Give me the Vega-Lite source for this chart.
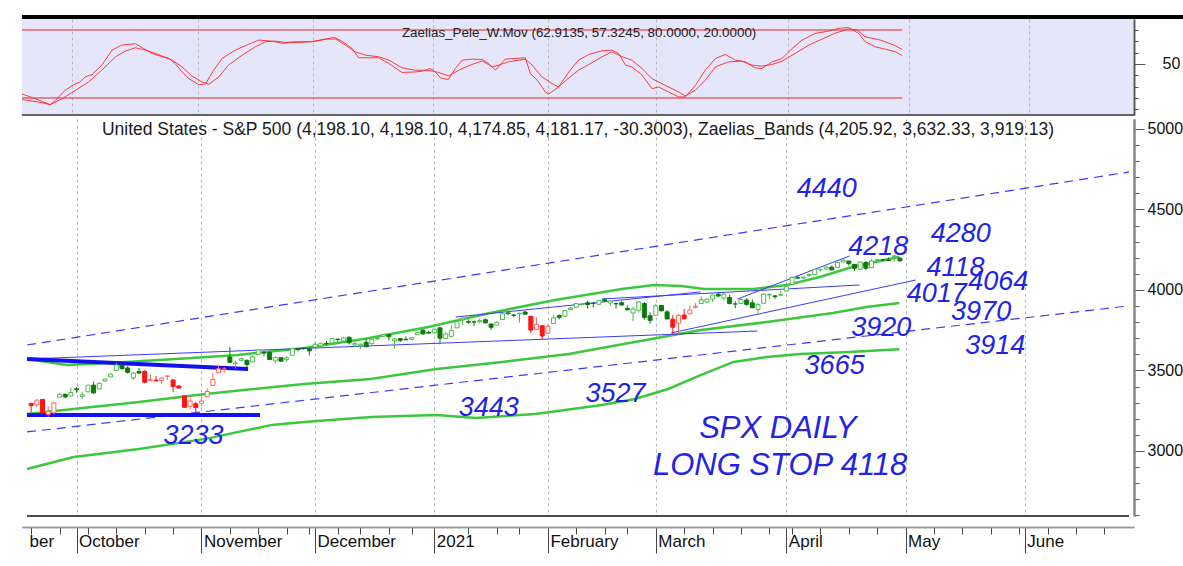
{
"$schema": "https://vega.github.io/schema/vega-lite/v6.json",
"padding": {"left": 18, "top": 14, "right": 0, "bottom": 0},
"background": "white",
"spacing": 3,
"config": {"view": {"stroke": null}, "font": "Liberation Sans", "axis": {"labelOverlap": false}},
"datasets": {
"osc": [
{"s":"f","i":-8.7,"v":23.5},{"s":"f","i":-6.4,"v":19.4},{"s":"f","i":-3.8,"v":14.1},{"s":"f","i":-2.9,"v":17.9},{"s":"f","i":-1.2,"v":26.8},{"s":"f","i":0.3,"v":31.8},{"s":"f","i":1.45,"v":34.2},{"s":"f","i":2.3,"v":38.6},{"s":"f","i":3.5,"v":40.7},{"s":"f","i":5.2,"v":49.0},{"s":"f","i":7.0,"v":62.3},{"s":"f","i":8.7,"v":66.7},{"s":"f","i":11.05,"v":67.9},{"s":"f","i":12.5,"v":63.7},{"s":"f","i":14.0,"v":59.3},{"s":"f","i":15.7,"v":56.4},{"s":"f","i":16.9,"v":54.9},{"s":"f","i":18.0,"v":50.4},{"s":"f","i":19.2,"v":43.0},{"s":"f","i":20.4,"v":37.1},{"s":"f","i":22.1,"v":31.8},{"s":"f","i":23.3,"v":32.4},{"s":"f","i":24.7,"v":44.5},{"s":"f","i":26.2,"v":54.9},{"s":"f","i":28.5,"v":62.3},{"s":"f","i":30.8,"v":67.3},{"s":"f","i":32.6,"v":71.1},{"s":"f","i":34.9,"v":70.2},{"s":"f","i":36.6,"v":68.2},{"s":"f","i":37.8,"v":68.8},{"s":"f","i":40.1,"v":69.1},{"s":"f","i":41.9,"v":69.7},{"s":"f","i":43.6,"v":71.1},{"s":"f","i":45.7,"v":73.5},{"s":"f","i":47.1,"v":70.2},{"s":"f","i":48.9,"v":63.7},{"s":"f","i":50.0,"v":55.5},{"s":"f","i":51.8,"v":55.5},{"s":"f","i":53.5,"v":55.5},{"s":"f","i":55.3,"v":50.4},{"s":"f","i":57.6,"v":42.5},{"s":"f","i":59.9,"v":43.0},{"s":"f","i":61.1,"v":43.6},{"s":"f","i":62.5,"v":46.0},{"s":"f","i":63.4,"v":43.0},{"s":"f","i":64.3,"v":37.7},{"s":"f","i":65.7,"v":36.3},{"s":"f","i":66.9,"v":46.0},{"s":"f","i":68.1,"v":53.4},{"s":"f","i":69.8,"v":54.3},{"s":"f","i":71.6,"v":54.0},{"s":"f","i":72.7,"v":50.4},{"s":"f","i":73.9,"v":44.5},{"s":"f","i":75.6,"v":54.3},{"s":"f","i":77.4,"v":54.9},{"s":"f","i":79.1,"v":55.5},{"s":"f","i":80.0,"v":41.6},{"s":"f","i":81.2,"v":35.7},{"s":"f","i":82.6,"v":25.3},{"s":"f","i":83.2,"v":23.5},{"s":"f","i":84.9,"v":29.7},{"s":"f","i":86.7,"v":43.0},{"s":"f","i":88.4,"v":53.4},{"s":"f","i":90.2,"v":58.4},{"s":"f","i":92.5,"v":61.7},{"s":"f","i":94.2,"v":62.3},{"s":"f","i":95.4,"v":59.3},{"s":"f","i":96.6,"v":49.0},{"s":"f","i":97.7,"v":47.5},{"s":"f","i":99.5,"v":40.1},{"s":"f","i":101.2,"v":28.3},{"s":"f","i":102.4,"v":29.7},{"s":"f","i":104.1,"v":25.3},{"s":"f","i":105.9,"v":20.9},{"s":"f","i":107.0,"v":20.9},{"s":"f","i":108.8,"v":31.2},{"s":"f","i":110.5,"v":44.5},{"s":"f","i":112.3,"v":54.9},{"s":"f","i":114.0,"v":58.4},{"s":"f","i":115.8,"v":53.4},{"s":"f","i":117.5,"v":51.9},{"s":"f","i":119.2,"v":46.6},{"s":"f","i":120.4,"v":46.0},{"s":"f","i":122.2,"v":51.9},{"s":"f","i":123.9,"v":54.9},{"s":"f","i":125.7,"v":63.7},{"s":"f","i":127.4,"v":71.1},{"s":"f","i":129.7,"v":77.0},{"s":"f","i":132.1,"v":79.1},{"s":"f","i":133.8,"v":81.5},{"s":"f","i":135.5,"v":82.1},{"s":"f","i":137.3,"v":77.0},{"s":"f","i":138.4,"v":69.7},{"s":"f","i":140.2,"v":65.2},{"s":"f","i":142.5,"v":62.3},{"s":"f","i":143.7,"v":60.8},{"s":"f","i":144.9,"v":57.3},
{"s":"s","i":-8.7,"v":18.6},{"s":"s","i":-5.8,"v":16.4},{"s":"s","i":-3.8,"v":14.1},{"s":"s","i":-1.7,"v":19.4},{"s":"s","i":0.6,"v":26.8},{"s":"s","i":2.9,"v":34.2},{"s":"s","i":5.2,"v":44.5},{"s":"s","i":7.6,"v":56.4},{"s":"s","i":9.3,"v":61.4},{"s":"s","i":11.05,"v":64.3},{"s":"s","i":12.8,"v":62.3},{"s":"s","i":15.1,"v":58.4},{"s":"s","i":17.5,"v":53.4},{"s":"s","i":19.2,"v":47.5},{"s":"s","i":20.9,"v":39.5},{"s":"s","i":22.7,"v":34.2},{"s":"s","i":23.9,"v":32.1},{"s":"s","i":25.6,"v":38.6},{"s":"s","i":27.3,"v":49.0},{"s":"s","i":29.7,"v":57.8},{"s":"s","i":32.0,"v":65.2},{"s":"s","i":33.8,"v":69.7},{"s":"s","i":35.5,"v":70.2},{"s":"s","i":37.2,"v":69.1},{"s":"s","i":39.6,"v":69.7},{"s":"s","i":41.9,"v":69.7},{"s":"s","i":44.2,"v":72.0},{"s":"s","i":46.0,"v":72.0},{"s":"s","i":47.7,"v":66.7},{"s":"s","i":49.4,"v":60.8},{"s":"s","i":51.2,"v":57.8},{"s":"s","i":53.5,"v":56.4},{"s":"s","i":55.3,"v":53.4},{"s":"s","i":57.6,"v":46.6},{"s":"s","i":59.9,"v":44.5},{"s":"s","i":62.2,"v":44.5},{"s":"s","i":64.0,"v":42.5},{"s":"s","i":65.7,"v":39.5},{"s":"s","i":67.5,"v":44.5},{"s":"s","i":69.8,"v":49.6},{"s":"s","i":71.6,"v":52.8},{"s":"s","i":73.3,"v":47.5},{"s":"s","i":74.5,"v":49.0},{"s":"s","i":76.2,"v":51.9},{"s":"s","i":79.1,"v":54.3},{"s":"s","i":80.3,"v":49.0},{"s":"s","i":82.0,"v":38.6},{"s":"s","i":83.8,"v":32.7},{"s":"s","i":84.9,"v":29.7},{"s":"s","i":86.7,"v":37.7},{"s":"s","i":88.4,"v":44.5},{"s":"s","i":90.2,"v":49.6},{"s":"s","i":92.5,"v":56.4},{"s":"s","i":94.2,"v":60.8},{"s":"s","i":96.0,"v":56.4},{"s":"s","i":97.7,"v":53.4},{"s":"s","i":99.5,"v":46.0},{"s":"s","i":101.2,"v":37.1},{"s":"s","i":103.5,"v":31.2},{"s":"s","i":105.9,"v":25.3},{"s":"s","i":107.0,"v":21.8},{"s":"s","i":108.8,"v":26.8},{"s":"s","i":110.5,"v":35.7},{"s":"s","i":112.3,"v":47.5},{"s":"s","i":114.6,"v":51.9},{"s":"s","i":116.9,"v":52.5},{"s":"s","i":118.7,"v":49.0},{"s":"s","i":120.4,"v":48.1},{"s":"s","i":122.2,"v":49.6},{"s":"s","i":123.9,"v":52.5},{"s":"s","i":126.2,"v":59.3},{"s":"s","i":128.6,"v":66.7},{"s":"s","i":130.9,"v":72.0},{"s":"s","i":133.1,"v":77.0},{"s":"s","i":135.5,"v":80.9},{"s":"s","i":137.0,"v":80.0},{"s":"s","i":138.4,"v":74.1},{"s":"s","i":141.1,"v":71.1},{"s":"s","i":143.4,"v":66.7},{"s":"s","i":144.9,"v":62.9}
],
"lev": [{"v":80},{"v":20}],
"toptitle": [{"label":"Zaelias_Pele_W.Mov (62.9135, 57.3245, 80.0000, 20.0000)","i":88.5,"v":77.4}],
"maintitle": [{"label":"United States - S&P 500 (4,198.10, 4,198.10, 4,174.85, 4,181.17, -30.3003), Zaelias_Bands (4,205.92, 3,632.33, 3,919.13)","i":88.3,"v":4994}],
"bands": [
{"s":"up","i":-8.73,"v":3571},{"s":"up","i":-1.75,"v":3534},{"s":"up","i":8.73,"v":3553},{"s":"up","i":17.45,"v":3571},{"s":"up","i":28.45,"v":3596},{"s":"up","i":40.14,"v":3640},{"s":"up","i":50.6,"v":3696},{"s":"up","i":61.95,"v":3770},{"s":"up","i":72.8,"v":3857},{"s":"up","i":84.3,"v":3938},{"s":"up","i":96.0,"v":4006},{"s":"up","i":101.7,"v":4031},{"s":"up","i":106.5,"v":4025},{"s":"up","i":110.5,"v":4006},{"s":"up","i":119.2,"v":4006},{"s":"up","i":125.1,"v":4031},{"s":"up","i":130.9,"v":4081},{"s":"up","i":136.6,"v":4143},{"s":"up","i":144.9,"v":4206},
{"s":"mid","i":-8.73,"v":3230},{"s":"mid","i":-0.52,"v":3261},{"s":"mid","i":11.0,"v":3304},{"s":"mid","i":22.7,"v":3354},{"s":"mid","i":40.1,"v":3416},{"s":"mid","i":51.8,"v":3447},{"s":"mid","i":63.4,"v":3509},{"s":"mid","i":75.0,"v":3553},{"s":"mid","i":86.7,"v":3602},{"s":"mid","i":98.3,"v":3677},{"s":"mid","i":110.0,"v":3752},{"s":"mid","i":121.6,"v":3801},{"s":"mid","i":133.2,"v":3857},{"s":"mid","i":139.1,"v":3894},{"s":"mid","i":144.9,"v":3919},
{"s":"low","i":-8.73,"v":2888},{"s":"low","i":-0.52,"v":2963},{"s":"low","i":11.0,"v":3012},{"s":"low","i":22.7,"v":3075},{"s":"low","i":34.4,"v":3162},{"s":"low","i":40.1,"v":3180},{"s":"low","i":51.8,"v":3211},{"s":"low","i":63.4,"v":3224},{"s":"low","i":70.3,"v":3205},{"s":"low","i":80.8,"v":3230},{"s":"low","i":92.5,"v":3286},{"s":"low","i":98.3,"v":3323},{"s":"low","i":104.2,"v":3385},{"s":"low","i":110.0,"v":3472},{"s":"low","i":115.7,"v":3553},{"s":"low","i":121.6,"v":3584},{"s":"low","i":127.4,"v":3602},{"s":"low","i":136.1,"v":3615},{"s":"low","i":144.9,"v":3632}
],
"dashed": [
{"id":"d1","i":-8.73,"v":3658},{"id":"d1","i":185.34,"v":4733},
{"id":"d2","i":-8.73,"v":3118},{"id":"d2","i":185.34,"v":3901}
],
"thin": [
{"id":"L5","i":-8.73,"v":3571},{"id":"L5","i":119.9,"v":3745},
{"id":"L1","i":66.8,"v":3832},{"id":"L1","i":109.9,"v":3988},
{"id":"L2","i":92.5,"v":3944},{"id":"L2","i":137.9,"v":4031},
{"id":"L3","i":116.4,"v":3944},{"id":"L3","i":136.1,"v":4211},
{"id":"L4","i":104.7,"v":3733},{"id":"L4","i":147.8,"v":4062}
],
"thick": [
{"id":"T1","i":-8.73,"v":3571},{"id":"T1","i":30.2,"v":3509},
{"id":"T2","i":-8.73,"v":3224},{"id":"T2","i":32.3,"v":3224}
],
"nums": [
{"txt":"4440","i":132.1,"v":4627},{"txt":"4280","i":155.7,"v":4348},{"txt":"4218","i":141.2,"v":4267},{"txt":"4118","i":154.8,"v":4137},{"txt":"4064","i":162.3,"v":4050},{"txt":"4017","i":151.5,"v":3975},{"txt":"3970","i":159.3,"v":3863},{"txt":"3920","i":141.7,"v":3764},{"txt":"3914","i":161.8,"v":3652},{"txt":"3665","i":133.5,"v":3528},{"txt":"3233","i":20.6,"v":3093},{"txt":"3443","i":72.6,"v":3267},{"txt":"3527","i":94.9,"v":3354}
],
"phr": [
{"txt":"SPX DAILY","i":123.5,"v":3137},{"txt":"LONG STOP 4118","i":123.9,"v":2907}
],
"ohlc": [
{"i":-8,"o":3295.75,"h":3295.75,"l":3229.1,"c":3281.06,"t":"r"},
{"i":-7,"o":3285.57,"h":3320.31,"l":3270.95,"c":3315.57,"t":"r"},
{"i":-6,"o":3320.11,"h":3323.35,"l":3232.57,"c":3236.92,"t":"r"},
{"i":-5,"o":3226.14,"h":3278.7,"l":3209.45,"c":3246.59,"t":"r"},
{"i":-4,"o":3236.66,"h":3306.88,"l":3228.44,"c":3298.46,"t":"r"},
{"i":-3,"o":3333.9,"h":3360.74,"l":3332.91,"c":3351.6,"t":"g"},
{"i":-2,"o":3350.92,"h":3357.92,"l":3327.54,"c":3335.47,"t":"g"},
{"i":-1,"o":3341.21,"h":3393.56,"l":3340.47,"c":3363.0,"t":"g"},
{"i":0,"o":3385.87,"h":3397.18,"l":3361.39,"c":3380.8,"t":"g"},
{"i":1,"o":3338.94,"h":3369.1,"l":3323.69,"c":3348.42,"t":"g"},
{"i":2,"o":3367.27,"h":3409.57,"l":3367.27,"c":3408.6,"t":"g"},
{"i":3,"o":3408.74,"h":3431.56,"l":3354.54,"c":3360.97,"t":"g"},
{"i":4,"o":3384.56,"h":3426.26,"l":3384.56,"c":3419.44,"t":"g"},
{"i":5,"o":3434.28,"h":3447.28,"l":3428.15,"c":3446.83,"t":"g"},
{"i":6,"o":3459.67,"h":3482.34,"l":3458.07,"c":3477.13,"t":"g"},
{"i":7,"o":3500.02,"h":3549.85,"l":3499.61,"c":3534.22,"t":"g"},
{"i":8,"o":3534.01,"h":3534.01,"l":3500.86,"c":3511.93,"t":"g"},
{"i":9,"o":3515.47,"h":3527.94,"l":3480.55,"c":3488.67,"t":"g"},
{"i":10,"o":3453.72,"h":3489.08,"l":3440.89,"c":3483.34,"t":"g"},
{"i":11,"o":3493.5,"h":3515.76,"l":3480.45,"c":3483.81,"t":"g"},
{"i":12,"o":3493.66,"h":3502.42,"l":3419.93,"c":3426.92,"t":"r"},
{"i":13,"o":3439.38,"h":3476.93,"l":3435.65,"c":3443.12,"t":"r"},
{"i":14,"o":3439.91,"h":3464.86,"l":3433.06,"c":3435.56,"t":"r"},
{"i":15,"o":3438.5,"h":3460.53,"l":3415.34,"c":3453.49,"t":"r"},
{"i":16,"o":3464.9,"h":3466.46,"l":3440.45,"c":3465.39,"t":"r"},
{"i":17,"o":3441.42,"h":3441.42,"l":3364.86,"c":3400.97,"t":"r"},
{"i":18,"o":3403.15,"h":3409.51,"l":3388.71,"c":3390.68,"t":"r"},
{"i":19,"o":3342.48,"h":3342.48,"l":3268.89,"c":3271.03,"t":"r"},
{"i":20,"o":3277.17,"h":3341.05,"l":3259.82,"c":3310.11,"t":"r"},
{"i":21,"o":3293.59,"h":3304.93,"l":3233.94,"c":3269.96,"t":"r"},
{"i":22,"o":3296.2,"h":3330.14,"l":3279.74,"c":3310.24,"t":"r"},
{"i":23,"o":3336.25,"h":3389.49,"l":3336.25,"c":3369.16,"t":"r"},
{"i":24,"o":3406.46,"h":3486.25,"l":3405.17,"c":3443.44,"t":"r"},
{"i":25,"o":3485.74,"h":3529.05,"l":3485.74,"c":3510.45,"t":"r"},
{"i":26,"o":3508.34,"h":3521.58,"l":3484.34,"c":3509.44,"t":"r"},
{"i":27,"o":3583.04,"h":3645.99,"l":3547.48,"c":3550.5,"t":"g"},
{"i":28,"o":3543.26,"h":3557.22,"l":3511.91,"c":3545.53,"t":"g"},
{"i":29,"o":3563.22,"h":3581.16,"l":3557.0,"c":3572.66,"t":"g"},
{"i":30,"o":3562.67,"h":3569.02,"l":3518.58,"c":3537.01,"t":"g"},
{"i":31,"o":3552.57,"h":3593.66,"l":3552.57,"c":3585.15,"t":"g"},
{"i":32,"o":3600.16,"h":3628.51,"l":3600.16,"c":3626.91,"t":"g"},
{"i":33,"o":3610.31,"h":3623.11,"l":3588.68,"c":3609.53,"t":"g"},
{"i":34,"o":3612.09,"h":3619.09,"l":3567.33,"c":3567.79,"t":"g"},
{"i":35,"o":3559.41,"h":3585.22,"l":3543.84,"c":3581.87,"t":"g"},
{"i":36,"o":3579.31,"h":3581.23,"l":3556.85,"c":3557.54,"t":"g"},
{"i":37,"o":3566.82,"h":3589.81,"l":3552.77,"c":3577.59,"t":"g"},
{"i":38,"o":3594.52,"h":3642.31,"l":3594.52,"c":3635.41,"t":"g"},
{"i":39,"o":3635.5,"h":3635.5,"l":3617.76,"c":3629.65,"t":"g"},
{"i":40,"o":3638.55,"h":3644.31,"l":3629.33,"c":3638.35,"t":"g"},
{"i":41,"o":3634.18,"h":3634.18,"l":3594.39,"c":3621.63,"t":"g"},
{"i":42,"o":3645.87,"h":3678.45,"l":3645.87,"c":3662.45,"t":"g"},
{"i":43,"o":3653.78,"h":3670.96,"l":3644.84,"c":3669.01,"t":"g"},
{"i":44,"o":3668.28,"h":3682.73,"l":3657.17,"c":3666.72,"t":"g"},
{"i":45,"o":3670.94,"h":3699.2,"l":3670.94,"c":3699.12,"t":"g"},
{"i":46,"o":3694.73,"h":3697.41,"l":3678.88,"c":3691.96,"t":"g"},
{"i":47,"o":3683.05,"h":3708.45,"l":3678.83,"c":3702.25,"t":"g"},
{"i":48,"o":3705.98,"h":3712.39,"l":3660.54,"c":3672.82,"t":"g"},
{"i":49,"o":3659.13,"h":3678.49,"l":3645.18,"c":3668.1,"t":"g"},
{"i":50,"o":3656.08,"h":3665.91,"l":3633.4,"c":3663.46,"t":"g"},
{"i":51,"o":3675.27,"h":3697.61,"l":3645.84,"c":3647.49,"t":"g"},
{"i":52,"o":3666.41,"h":3695.29,"l":3659.62,"c":3694.62,"t":"g"},
{"i":53,"o":3696.25,"h":3711.27,"l":3688.57,"c":3701.17,"t":"g"},
{"i":54,"o":3713.65,"h":3725.12,"l":3710.87,"c":3722.48,"t":"g"},
{"i":55,"o":3722.39,"h":3726.7,"l":3685.84,"c":3709.41,"t":"g"},
{"i":56,"o":3684.28,"h":3702.9,"l":3636.48,"c":3694.92,"t":"g"},
{"i":57,"o":3698.08,"h":3698.26,"l":3676.16,"c":3687.26,"t":"g"},
{"i":58,"o":3693.42,"h":3711.24,"l":3689.28,"c":3690.01,"t":"g"},
{"i":59,"o":3694.03,"h":3703.82,"l":3689.32,"c":3703.06,"t":"g"},
{"i":60,"o":3723.03,"h":3740.51,"l":3723.03,"c":3735.36,"t":"g"},
{"i":61,"o":3750.01,"h":3756.12,"l":3723.31,"c":3727.04,"t":"g"},
{"i":62,"o":3736.19,"h":3744.63,"l":3730.21,"c":3732.04,"t":"g"},
{"i":63,"o":3733.27,"h":3760.2,"l":3726.88,"c":3756.07,"t":"g"},
{"i":64,"o":3764.61,"h":3769.99,"l":3662.71,"c":3700.65,"t":"g"},
{"i":65,"o":3698.02,"h":3737.83,"l":3695.07,"c":3726.86,"t":"g"},
{"i":66,"o":3712.2,"h":3783.04,"l":3705.34,"c":3748.14,"t":"g"},
{"i":67,"o":3764.71,"h":3811.55,"l":3764.71,"c":3803.79,"t":"g"},
{"i":68,"o":3815.05,"h":3826.69,"l":3783.6,"c":3824.68,"t":"g"},
{"i":69,"o":3803.14,"h":3817.86,"l":3789.02,"c":3799.61,"t":"g"},
{"i":70,"o":3801.62,"h":3810.78,"l":3776.51,"c":3801.19,"t":"g"},
{"i":71,"o":3802.23,"h":3820.96,"l":3791.5,"c":3809.84,"t":"g"},
{"i":72,"o":3814.98,"h":3823.6,"l":3792.86,"c":3795.54,"t":"g"},
{"i":73,"o":3788.73,"h":3788.73,"l":3749.62,"c":3768.25,"t":"g"},
{"i":74,"o":3781.88,"h":3804.53,"l":3780.37,"c":3798.91,"t":"g"},
{"i":75,"o":3816.22,"h":3859.75,"l":3816.22,"c":3851.85,"t":"g"},
{"i":76,"o":3857.46,"h":3861.45,"l":3845.05,"c":3853.07,"t":"g"},
{"i":77,"o":3844.24,"h":3852.31,"l":3830.41,"c":3841.47,"t":"g"},
{"i":78,"o":3851.68,"h":3859.23,"l":3797.16,"c":3855.36,"t":"g"},
{"i":79,"o":3862.96,"h":3870.9,"l":3847.78,"c":3849.62,"t":"g"},
{"i":80,"o":3836.83,"h":3836.83,"l":3732.48,"c":3750.77,"t":"r"},
{"i":81,"o":3755.75,"h":3830.5,"l":3755.75,"c":3787.38,"t":"r"},
{"i":82,"o":3778.05,"h":3778.05,"l":3694.12,"c":3714.24,"t":"r"},
{"i":83,"o":3731.17,"h":3784.32,"l":3725.62,"c":3773.86,"t":"r"},
{"i":84,"o":3791.84,"h":3843.09,"l":3791.84,"c":3826.31,"t":"g"},
{"i":85,"o":3840.27,"h":3847.51,"l":3816.68,"c":3830.17,"t":"g"},
{"i":86,"o":3836.66,"h":3872.42,"l":3836.66,"c":3871.74,"t":"g"},
{"i":87,"o":3878.3,"h":3894.56,"l":3874.93,"c":3886.83,"t":"g"},
{"i":88,"o":3892.59,"h":3915.77,"l":3892.59,"c":3915.59,"t":"g"},
{"i":89,"o":3910.49,"h":3918.35,"l":3902.64,"c":3911.23,"t":"g"},
{"i":90,"o":3920.78,"h":3931.5,"l":3884.94,"c":3909.88,"t":"g"},
{"i":91,"o":3916.4,"h":3925.99,"l":3890.39,"c":3916.38,"t":"g"},
{"i":92,"o":3911.65,"h":3937.23,"l":3905.78,"c":3934.83,"t":"g"},
{"i":93,"o":3939.61,"h":3950.43,"l":3923.85,"c":3932.59,"t":"g"},
{"i":94,"o":3918.5,"h":3933.61,"l":3900.43,"c":3931.33,"t":"g"},
{"i":95,"o":3915.86,"h":3921.98,"l":3885.03,"c":3913.97,"t":"g"},
{"i":96,"o":3921.16,"h":3930.41,"l":3903.07,"c":3906.71,"t":"g"},
{"i":97,"o":3885.55,"h":3902.92,"l":3874.71,"c":3876.5,"t":"g"},
{"i":98,"o":3857.07,"h":3895.98,"l":3805.59,"c":3881.37,"t":"g"},
{"i":99,"o":3873.71,"h":3928.65,"l":3859.6,"c":3925.43,"t":"g"},
{"i":100,"o":3915.8,"h":3925.02,"l":3814.04,"c":3829.34,"t":"g"},
{"i":101,"o":3839.66,"h":3861.08,"l":3789.54,"c":3811.15,"t":"g"},
{"i":102,"o":3842.51,"h":3914.5,"l":3842.51,"c":3901.82,"t":"g"},
{"i":103,"o":3903.64,"h":3906.41,"l":3868.57,"c":3870.29,"t":"g"},
{"i":104,"o":3863.99,"h":3874.47,"l":3818.86,"c":3819.72,"t":"g"},
{"i":105,"o":3818.53,"h":3843.67,"l":3723.34,"c":3768.47,"t":"r"},
{"i":106,"o":3793.58,"h":3851.69,"l":3730.19,"c":3841.94,"t":"r"},
{"i":107,"o":3844.39,"h":3881.06,"l":3819.25,"c":3821.35,"t":"r"},
{"i":108,"o":3851.93,"h":3903.76,"l":3851.93,"c":3875.44,"t":"r"},
{"i":109,"o":3891.99,"h":3917.35,"l":3885.73,"c":3898.81,"t":"r"},
{"i":110,"o":3915.54,"h":3960.27,"l":3915.54,"c":3939.34,"t":"g"},
{"i":111,"o":3924.52,"h":3944.99,"l":3915.21,"c":3943.34,"t":"g"},
{"i":112,"o":3942.96,"h":3970.08,"l":3923.54,"c":3968.94,"t":"g"},
{"i":113,"o":3973.59,"h":3981.04,"l":3953.44,"c":3962.71,"t":"g"},
{"i":114,"o":3949.57,"h":3983.87,"l":3935.74,"c":3974.12,"t":"g"},
{"i":115,"o":3953.5,"h":3969.62,"l":3910.86,"c":3915.46,"t":"g"},
{"i":116,"o":3913.14,"h":3930.12,"l":3886.75,"c":3913.1,"t":"g"},
{"i":117,"o":3916.48,"h":3955.31,"l":3914.16,"c":3940.59,"t":"g"},
{"i":118,"o":3937.6,"h":3949.13,"l":3901.78,"c":3910.52,"t":"g"},
{"i":119,"o":3919.93,"h":3942.08,"l":3889.07,"c":3889.14,"t":"g"},
{"i":120,"o":3879.34,"h":3919.54,"l":3853.5,"c":3909.52,"t":"g"},
{"i":121,"o":3917.12,"h":3978.19,"l":3917.12,"c":3974.54,"t":"g"},
{"i":122,"o":3969.31,"h":3981.83,"l":3943.25,"c":3971.09,"t":"g"},
{"i":123,"o":3963.34,"h":3968.01,"l":3944.35,"c":3958.55,"t":"g"},
{"i":124,"o":3967.25,"h":3994.41,"l":3966.98,"c":3972.89,"t":"g"},
{"i":125,"o":3992.78,"h":4020.63,"l":3992.78,"c":4019.87,"t":"g"},
{"i":126,"o":4034.44,"h":4083.42,"l":4034.44,"c":4077.91,"t":"g"},
{"i":127,"o":4075.57,"h":4086.23,"l":4068.14,"c":4073.94,"t":"g"},
{"i":128,"o":4074.29,"h":4083.13,"l":4068.31,"c":4079.95,"t":"g"},
{"i":129,"o":4089.95,"h":4098.19,"l":4082.54,"c":4097.17,"t":"g"},
{"i":130,"o":4096.11,"h":4129.48,"l":4095.51,"c":4128.8,"t":"g"},
{"i":131,"o":4124.71,"h":4131.76,"l":4114.82,"c":4127.99,"t":"g"},
{"i":132,"o":4130.1,"h":4148.0,"l":4124.43,"c":4141.59,"t":"g"},
{"i":133,"o":4141.58,"h":4151.69,"l":4120.87,"c":4124.66,"t":"g"},
{"i":134,"o":4139.76,"h":4173.49,"l":4139.76,"c":4170.42,"t":"g"},
{"i":135,"o":4174.14,"h":4191.31,"l":4170.75,"c":4185.47,"t":"g"},
{"i":136,"o":4179.8,"h":4180.81,"l":4150.47,"c":4163.26,"t":"g"},
{"i":137,"o":4159.18,"h":4159.18,"l":4118.38,"c":4134.94,"t":"g"},
{"i":138,"o":4128.42,"h":4175.02,"l":4126.35,"c":4173.42,"t":"g"},
{"i":139,"o":4170.46,"h":4179.57,"l":4123.69,"c":4134.98,"t":"g"},
{"i":140,"o":4138.78,"h":4194.17,"l":4138.78,"c":4180.17,"t":"g"},
{"i":141,"o":4185.03,"h":4194.19,"l":4182.36,"c":4187.62,"t":"g"},
{"i":142,"o":4188.25,"h":4193.35,"l":4176.22,"c":4186.72,"t":"g"},
{"i":143,"o":4185.14,"h":4201.53,"l":4181.78,"c":4183.18,"t":"g"},
{"i":144,"o":4206.14,"h":4218.78,"l":4176.81,"c":4211.47,"t":"g"},
{"i":145,"o":4198.1,"h":4198.1,"l":4174.85,"c":4181.17,"t":"g"}
]
},
"vconcat": [
{
"width": 1112, "height": 96,
"view": {"fill": "#e6e6fa", "stroke": null},
"resolve": {"axis": {"x": "independent", "y": "independent"}},
"layer": [
{"data": {"name": "lev"}, "mark": {"type": "rule", "color": "#e52222", "strokeWidth": 1},
 "encoding": {
  "x": {"datum": -8.73, "type": "quantitative", "scale": {"domain": [-8.73, 185.34], "nice": false, "zero": false},
   "axis": {"orient": "bottom", "title": null, "values": [0,22,42,63,83,102,125,146,167], "labels": false, "ticks": false, "domain": false, "grid": true, "gridDash": [3,3], "gridColor": "#b8b8b8", "minExtent": 0, "maxExtent": 0}},
  "x2": {"datum": 144.9},
  "y": {"field": "v", "type": "quantitative", "scale": {"domain": [5, 89.7], "nice": false, "zero": false},
   "axis": {"orient": "right", "title": null, "values": [50], "grid": false, "tickSize": 11,
    "labelPadding": 17, "labelFontSize": 16, "labelFont": "Liberation Sans", "labelColor": "#111",
    "domainColor": "#555", "domainWidth": 1.5, "tickColor": "#555", "labelOverlap": false, "labelFlush": false, "labelBaseline": "middle"}}
 }},
{"data": {"name": "osc"}, "mark": {"type": "line", "color": "#ff2a2a", "strokeWidth": 1, "opacity": 0.9},
 "encoding": {"x": {"field": "i", "type": "quantitative", "axis": null},
  "y": {"field": "v", "type": "quantitative",
   "axis": {"orient": "right", "title": null, "values": [10,20,30,40,60,70,80], "labels": false, "grid": false, "tickSize": 4, "domainColor": "#555", "domainWidth": 1.5, "tickColor": "#555"}},
  "detail": {"field": "s"}}},
{"data": {"name": "toptitle"}, "mark": {"type": "text", "font": "Liberation Sans", "fontSize": 13.4, "color": "#222", "align": "center", "baseline": "middle"},
 "encoding": {"x": {"field": "i", "type": "quantitative", "axis": null}, "y": {"field": "v", "type": "quantitative", "axis": null}, "text": {"field": "label"}}},
{"data": {"values": [{"k": 1}]}, "mark": {"type": "rule", "color": "#000", "strokeWidth": 4},
 "encoding": {"x": {"datum": -8.73, "type": "quantitative", "axis": null}, "x2": {"datum": 194.2}, "y": {"datum": 91.5, "type": "quantitative", "axis": null}}},
{"data": {"values": [{"k": 1}]}, "mark": {"type": "rule", "color": "#333", "strokeWidth": 1.5},
 "encoding": {"x": {"datum": -8.73, "type": "quantitative", "axis": null}, "x2": {"datum": 185.34}, "y": {"datum": 5, "type": "quantitative", "axis": null}}}
]
},
{
"width": 1112, "height": 397,
"resolve": {"axis": {"x": "independent", "y": "independent"}},
"layer": [
{"data": {"name": "bands"}, "mark": {"type": "line", "color": "#3cc83c", "strokeWidth": 2.5},
 "encoding": {
  "x": {"field": "i", "type": "quantitative", "scale": {"domain": [-8.73, 185.34], "nice": false, "zero": false},
   "axis": {"orient": "bottom", "offset": 11, "title": null,
    "values": [-8.73,0,22,42,63,83,102,125,146,167],
    "labelExpr": "datum.value == 0 ? 'October' : datum.value == 22 ? 'November' : datum.value == 42 ? 'December' : datum.value == 63 ? '2021' : datum.value == 83 ? 'February' : datum.value == 102 ? 'March' : datum.value == 125 ? 'April' : datum.value == 146 ? 'May' : datum.value == 167 ? 'June' : 'ber'",
    "tickSize": 26,
    "tickOpacity": {"condition": {"test": "datum.value < -8.5", "value": 0}, "value": 1},
    "labelPadding": -12,
    "labelAlign": "left", "labelBaseline": "middle", "labelOffset": 2,
    "labelFont": "Liberation Sans", "labelFontSize": 17, "labelColor": "#111",
    "labelOverlap": false, "labelFlush": false, "labelBound": false,
    "domainColor": "#999", "domainWidth": 1.5, "tickColor": "#444",
    "grid": true, "gridColor": "#b8b8b8", "gridDash": [3,3],
    "gridOpacity": {"condition": {"test": "datum.value < -8.5", "value": 0}, "value": 1}}},
  "y": {"field": "v", "type": "quantitative", "scale": {"domain": [2596, 5062], "nice": false, "zero": false},
   "axis": {"orient": "right", "title": null, "values": [3000,3500,4000,4500,5000], "tickSize": 10,
    "labelPadding": 3, "labelFont": "Liberation Sans", "labelFontSize": 16, "labelColor": "#111", "format": "d",
    "domainColor": "#888", "domainWidth": 2, "tickColor": "#555", "grid": false, "labelOverlap": false, "labelFlush": false, "labelBaseline": "middle"}},
  "detail": {"field": "s"}
 }},
{"data": {"name": "dashed"}, "mark": {"type": "line", "color": "#3a3aff", "strokeWidth": 1.2, "strokeDash": [9, 6]},
 "encoding": {
  "x": {"field": "i", "type": "quantitative",
   "axis": {"orient": "bottom", "offset": 11, "title": null, "values": [-8,-3,2,7,12,17,27,32,37,41,46,50,55,59,69,74,78,88,93,97,107,112,117,122,126,131,136,141,151,156,161,166,171,176,181], "labels": false, "tickSize": 7, "tickColor": "#444", "domainColor": "#999", "domainWidth": 1.5, "grid": false}},
  "y": {"field": "v", "type": "quantitative",
   "axis": {"orient": "right", "title": null, "values": [2600,2700,2800,2900,3100,3200,3300,3400,3600,3700,3800,3900,4100,4200,4300,4400,4600,4700,4800,4900], "labels": false, "tickSize": 5, "tickColor": "#555", "domainColor": "#888", "domainWidth": 2, "grid": false}},
  "detail": {"field": "id"}}},
{"data": {"name": "thin"}, "mark": {"type": "line", "color": "#3a3aff", "strokeWidth": 1},
 "encoding": {"x": {"field": "i", "type": "quantitative", "axis": null}, "y": {"field": "v", "type": "quantitative", "axis": null}, "detail": {"field": "id"}}},
{"data": {"name": "thick"}, "mark": {"type": "line", "color": "#1212f0", "strokeWidth": 4},
 "encoding": {"x": {"field": "i", "type": "quantitative", "axis": null}, "y": {"field": "v", "type": "quantitative", "axis": null}, "detail": {"field": "id"}}},
{"data": {"name": "ohlc"}, "mark": {"type": "rule", "strokeWidth": 1},
 "encoding": {"x": {"field": "i", "type": "quantitative", "axis": null}, "y": {"field": "l", "type": "quantitative", "axis": null}, "y2": {"field": "h"},
  "color": {"condition": [{"test": "datum.t == 'g' && datum.c >= datum.o", "value": "#4cbb4c"}, {"test": "datum.t == 'g'", "value": "#0e7a0e"}, {"test": "datum.c >= datum.o", "value": "#ff6262"}], "value": "#ff1414"}}},
{"data": {"name": "ohlc"}, "mark": {"type": "bar", "width": 4, "strokeWidth": 1},
 "encoding": {"x": {"field": "i", "type": "quantitative", "axis": null}, "y": {"field": "o", "type": "quantitative", "axis": null}, "y2": {"field": "c"},
  "stroke": {"condition": [{"test": "datum.t == 'g' && datum.c >= datum.o", "value": "#4cbb4c"}, {"test": "datum.t == 'g'", "value": "#0e7a0e"}, {"test": "datum.c >= datum.o", "value": "#ff6262"}], "value": "#ff1414"},
  "fill": {"condition": [{"test": "datum.c >= datum.o", "value": "#ffffff"}, {"test": "datum.t == 'g'", "value": "#0e7a0e"}], "value": "#ff1414"}}},
{"data": {"values": [{"k": 1}]}, "mark": {"type": "rule", "color": "#111", "strokeWidth": 1.5},
 "encoding": {"x": {"datum": -8.73, "type": "quantitative", "axis": null}, "x2": {"datum": 185.34}, "y": {"datum": 2596, "type": "quantitative", "axis": null}}},
{"data": {"name": "maintitle"}, "mark": {"type": "text", "font": "Liberation Sans", "fontSize": 17.5, "color": "#1a1a1a", "align": "center", "baseline": "middle"},
 "encoding": {"x": {"field": "i", "type": "quantitative", "axis": null}, "y": {"field": "v", "type": "quantitative", "axis": null}, "text": {"field": "label"}}},
{"data": {"name": "nums"}, "mark": {"type": "text", "font": "Liberation Sans", "fontStyle": "italic", "fontSize": 27, "color": "#2323e6", "align": "center", "baseline": "middle"},
 "encoding": {"x": {"field": "i", "type": "quantitative", "axis": null}, "y": {"field": "v", "type": "quantitative", "axis": null}, "text": {"field": "txt"}}},
{"data": {"name": "phr"}, "mark": {"type": "text", "font": "Liberation Sans", "fontStyle": "italic", "fontSize": 31, "color": "#2323e6", "align": "center", "baseline": "middle"},
 "encoding": {"x": {"field": "i", "type": "quantitative", "axis": null}, "y": {"field": "v", "type": "quantitative", "axis": null}, "text": {"field": "txt"}}}
]
}
]
}
